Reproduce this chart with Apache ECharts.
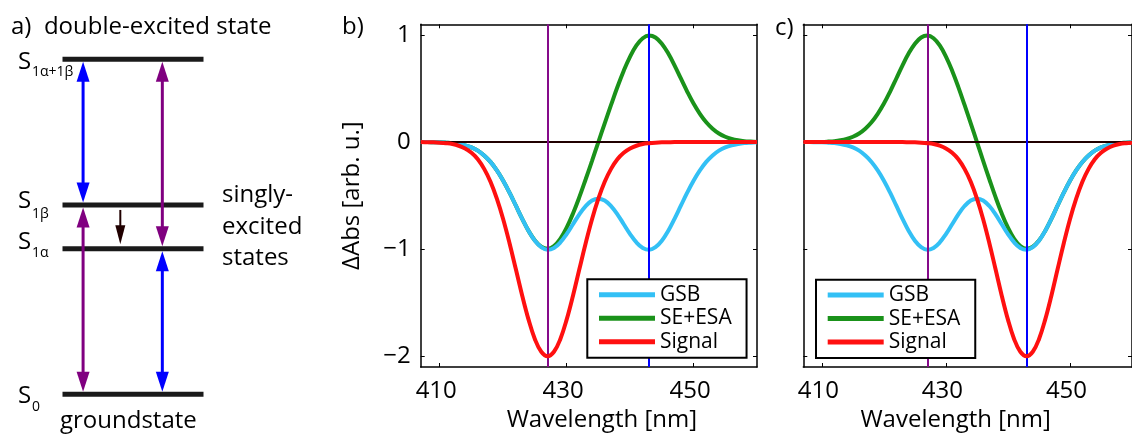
<!DOCTYPE html>
<html><head><meta charset="utf-8">
<script src="https://cdn.jsdelivr.net/npm/echarts@6/dist/echarts.min.js"></script>
<style>html,body{margin:0;padding:0;background:#fff}#c{width:1132px;height:437px}</style>
</head><body><div id="c"></div>
<script>
// ---------- data ----------
const wavelengths = [407,408,409,410,411,412,413,414,415,416,417,418,419,420,421,422,423,424,425,426,427,428,429,430,431,432,433,434,435,436,437,438,439,440,441,442,443,444,445,446,447,448,449,450,451,452,453,454,455,456,457,458,459,460];
const gsb = [0,0,-0.001,-0.002,-0.005,-0.009,-0.017,-0.030,-0.050,-0.080,-0.125,-0.185,-0.264,-0.360,-0.472,-0.594,-0.717,-0.830,-0.921,-0.981,-1.005,-0.988,-0.937,-0.859,-0.767,-0.674,-0.597,-0.545,-0.528,-0.545,-0.597,-0.674,-0.767,-0.859,-0.937,-0.988,-1.005,-0.981,-0.921,-0.830,-0.717,-0.594,-0.472,-0.360,-0.264,-0.185,-0.125,-0.080,-0.050,-0.030,-0.017,-0.009,-0.005,-0.002];
const seEsaB = [0,0,-0.001,-0.002,-0.005,-0.009,-0.017,-0.030,-0.050,-0.080,-0.125,-0.185,-0.264,-0.360,-0.472,-0.594,-0.717,-0.829,-0.919,-0.977,-0.995,-0.970,-0.903,-0.799,-0.667,-0.514,-0.347,-0.175,0,0.175,0.347,0.514,0.667,0.799,0.903,0.970,0.995,0.977,0.919,0.829,0.717,0.594,0.472,0.360,0.264,0.185,0.125,0.080,0.050,0.030,0.017,0.009,0.005,0.002];
const signalB = [0,-0.001,-0.002,-0.005,-0.010,-0.018,-0.034,-0.060,-0.100,-0.160,-0.250,-0.370,-0.528,-0.720,-0.944,-1.188,-1.434,-1.658,-1.840,-1.958,-2.000,-1.958,-1.840,-1.658,-1.434,-1.188,-0.944,-0.720,-0.528,-0.370,-0.250,-0.160,-0.100,-0.060,-0.034,-0.018,-0.010,-0.005,-0.002,-0.001,0,0,0,0,0,0,0,0,0,0,0,0,0,0];
const seEsaC = [0,0,0.001,0.002,0.005,0.009,0.017,0.030,0.050,0.080,0.125,0.185,0.264,0.360,0.472,0.594,0.717,0.829,0.919,0.977,0.995,0.970,0.903,0.799,0.667,0.514,0.347,0.175,0,-0.175,-0.347,-0.514,-0.667,-0.799,-0.903,-0.970,-0.995,-0.977,-0.919,-0.829,-0.717,-0.594,-0.472,-0.360,-0.264,-0.185,-0.125,-0.080,-0.050,-0.030,-0.017,-0.009,-0.005,-0.002];
const signalC = [0,0,0,0,0,0,0,0,0,0,0,0,0,0,0,0,0,-0.001,-0.002,-0.005,-0.010,-0.018,-0.034,-0.060,-0.100,-0.160,-0.250,-0.370,-0.528,-0.720,-0.944,-1.188,-1.434,-1.658,-1.840,-1.958,-2.000,-1.958,-1.840,-1.658,-1.434,-1.188,-0.944,-0.720,-0.528,-0.370,-0.250,-0.160,-0.100,-0.060,-0.034,-0.018,-0.010,-0.005];
const seriesNames = ['GSB', 'SE+ESA', 'Signal'];
const peakWavelengths = [427, 443];
const xTicks = [410, 430, 450];
const yTicks = [-2, -1, 0, 1];

// energy-level diagram (panel a)
const levelEnergy = [0, 1, 1.3, 2.3];           // S0, S1α, S1β, S1α+1β
const arrowX     = [0.146, 0.146, 0.708, 0.708, 0.41];
const arrowLower = [1.3, 0, 1, 0, 1];
const arrowUpper = [2.3, 1.3, 2.3, 1, 1.3];

// ---------- styles ----------
const FONT = "'Open Sans', sans-serif";
const colors = { GSB: '#33c0f5', 'SE+ESA': '#1a921a', Signal: '#ff1010' };
const zOrder = { 'SE+ESA': 3, GSB: 4, Signal: 5 };
const purple = '#850a8a', blue = '#0000ff';
const arrowStyles = [
  { color: blue,   width: 3, headTop: true,  headBot: true, gapTop: 2.5, gapBot: 2.5, L: 20, W: 13 },
  { color: '#800080', width: 3, headTop: true,  headBot: true, gapTop: 2.5, gapBot: 2.5, L: 20, W: 13 },
  { color: '#800080', width: 3, headTop: true,  headBot: true, gapTop: 2.5, gapBot: 2.5, L: 20, W: 13 },
  { color: blue,   width: 3, headTop: true,  headBot: true, gapTop: 2.5, gapBot: 2.5, L: 20, W: 13 },
  { color: '#200000', width: 2, headTop: false, headBot: true, gapTop: 5, gapBot: 4.5, L: 19, W: 10 }
];

const pairs = arr => wavelengths.map((w, i) => [w, arr[i]]);
const minus = v => (v < 0 ? '\u2212' + Math.abs(v) : String(v));

function frameX(gridIndex, position, labelled, nameShift) {
  const a = {
    type: 'value', gridIndex, position, min: 407, max: 460,
    axisLine: { show: true, onZero: false, lineStyle: { color: '#000', width: 1.5 } },
    axisTick: { show: true, inside: true, length: 4, customValues: xTicks, lineStyle: { color: '#000', width: 1 } },
    axisLabel: { show: labelled, customValues: xTicks, margin: 12, fontSize: 24, fontFamily: FONT, color: '#000', padding: [0, 7, 0, 0] },
    splitLine: { show: false }
  };
  if (labelled) {
    a.name = 'Wavelength [nm]';
    a.nameLocation = 'middle';
    a.nameGap = 40;
    a.nameTextStyle = { fontSize: 24, fontFamily: FONT, color: '#000', padding: nameShift };
  }
  return a;
}
function frameY(gridIndex, position, labelled, named) {
  const a = {
    type: 'value', gridIndex, position, min: -2.1, max: 1.1,
    axisLine: { show: true, onZero: false, lineStyle: { color: '#000', width: 1.5 } },
    axisTick: { show: true, inside: true, length: 4, customValues: yTicks, lineStyle: { color: '#000', width: 1 } },
    axisLabel: { show: labelled, customValues: yTicks, margin: 10, fontSize: 24, fontFamily: FONT, color: '#000', formatter: minus },
    splitLine: { show: false }
  };
  if (named) {
    a.name = '\u0394Abs [arb. u.]';
    a.nameLocation = 'middle';
    a.nameGap = 57;
    a.nameTextStyle = { fontSize: 24, fontFamily: FONT, color: '#000' };
  }
  return a;
}

function curveSeries(name, arr, xi, yi) {
  return {
    type: 'line', name, data: pairs(arr), xAxisIndex: xi, yAxisIndex: yi,
    showSymbol: false, symbol: 'none', smooth: 0.4, z: zOrder[name], color: colors[name],
    lineStyle: { width: 4, color: colors[name] }
  };
}
function refSeries(xi, yi) {
  return {
    type: 'line', name: 'ref', data: [], xAxisIndex: xi, yAxisIndex: yi, z: 1,
    markLine: {
      silent: true, symbol: 'none', animation: false, label: { show: false },
      data: [
        { yAxis: 0, lineStyle: { color: '#200000', width: 2, type: 'solid' } },
        { xAxis: peakWavelengths[0], lineStyle: { color: purple, width: 2, type: 'solid' } },
        { xAxis: peakWavelengths[1], lineStyle: { color: blue, width: 2, type: 'solid' } }
      ]
    }
  };
}
function legendAt(left, top) {
  return {
    data: seriesNames, left, top, orient: 'vertical', icon: 'rect',
    itemWidth: 56, itemHeight: 5, itemGap: 1.5, selectedMode: false,
    padding: [4.4, 14.9, 5, 11.7], borderColor: '#000', borderWidth: 2, backgroundColor: '#fff',
    textStyle: { fontSize: 21, fontFamily: FONT, color: '#000', lineHeight: 22 }, z: 10
  };
}

function txt(text, x, y, size, extra) {
  return Object.assign({ type: 'text', x, y, z: 20,
    style: { text, fontSize: size, fontFamily: FONT, fill: '#000', align: 'left', verticalAlign: 'middle' } }, extra || {});
}

const chart = echarts.init(document.getElementById('c'), null, { renderer: 'canvas' });
chart.setOption({
  animation: false,
  textStyle: { fontFamily: FONT },
  grid: [
    { left: 62.5, top: 30.17, width: 141, height: 393.26 },
    { left: 420.7, top: 24.3, width: 336.3, height: 342.7 },
    { left: 803.3, top: 24.3, width: 337, height: 342.7 }
  ],
  xAxis: [
    { type: 'value', gridIndex: 0, min: 0, max: 1, show: false },
    frameX(1, 'bottom', true, [0, 0, 0, 26]),
    frameX(1, 'top', false),
    frameX(2, 'bottom', true, [0, 24, 0, 0]),
    frameX(2, 'top', false)
  ],
  yAxis: [
    { type: 'value', gridIndex: 0, min: -0.2, max: 2.5, show: false },
    frameY(1, 'left', true, true),
    frameY(1, 'right', false, false),
    frameY(2, 'left', false, false),
    frameY(2, 'right', false, false)
  ],
  legend: [legendAt(587.3, 279.3), legendAt(816, 279.7)],
  series: [
    {
      type: 'custom', name: 'levels', xAxisIndex: 0, yAxisIndex: 0,
      data: levelEnergy.map(e => [0, e, 1]), encode: { x: [0, 2], y: 1 },
      renderItem(params, api) {
        const p0 = api.coord([api.value(0), api.value(1)]);
        const p1 = api.coord([api.value(2), api.value(1)]);
        return { type: 'line', shape: { x1: p0[0], y1: p0[1], x2: p1[0], y2: p1[1] },
          style: { stroke: '#1a1a1a', lineWidth: 5 } };
      }
    },
    {
      type: 'custom', name: 'transitions', xAxisIndex: 0, yAxisIndex: 0,
      data: arrowX.map((x, i) => [x, arrowLower[i], arrowUpper[i]]), encode: { x: 0, y: [1, 2] },
      renderItem(params, api) {
        const st = arrowStyles[params.dataIndex];
        const top = api.coord([api.value(0), api.value(2)]);
        const bot = api.coord([api.value(0), api.value(1)]);
        const cx = top[0];
        const yT = top[1] + st.gapTop, yB = bot[1] - st.gapBot;
        const children = [];
        let s0 = yT, s1 = yB;
        if (st.headTop) {
          children.push({ type: 'polygon', shape: { points: [[cx, yT], [cx - st.W / 2, yT + st.L], [cx + st.W / 2, yT + st.L]] }, style: { fill: st.color } });
          s0 = yT + st.L - 1;
        }
        if (st.headBot) {
          children.push({ type: 'polygon', shape: { points: [[cx, yB], [cx - st.W / 2, yB - st.L], [cx + st.W / 2, yB - st.L]] }, style: { fill: st.color } });
          s1 = yB - st.L + 1;
        }
        children.push({ type: 'line', shape: { x1: cx, y1: s0, x2: cx, y2: s1 }, style: { stroke: st.color, lineWidth: st.width } });
        return { type: 'group', children };
      }
    },
    refSeries(1, 1),
    curveSeries('SE+ESA', seEsaB, 1, 1),
    curveSeries('GSB', gsb, 1, 1),
    curveSeries('Signal', signalB, 1, 1),
    refSeries(3, 3),
    curveSeries('SE+ESA', seEsaC, 3, 3),
    curveSeries('GSB', gsb, 3, 3),
    curveSeries('Signal', signalC, 3, 3)
  ],
  graphic: [
    txt('a)  double-excited state', 11, 27, 24),
    txt('S', 18, 61.7, 24), txt('1\u03b1+1\u03b2', 32, 71.7, 14),
    txt('S', 18, 200.8, 24), txt('1\u03b2', 32, 214, 14),
    txt('S', 18, 242.5, 24), txt('1\u03b1', 32, 253.5, 14),
    txt('S', 18, 395.8, 24), txt('0', 32, 407.5, 14),
    txt('singly-', 222, 195, 24),
    txt('excited', 222, 226.7, 24),
    txt('states', 222, 258.4, 24),
    txt('groundstate', 60, 421, 24),
    txt('b)', 342, 27.5, 24),
    txt('c)', 775, 28, 24)
  ]
});
</script>
</body></html>
